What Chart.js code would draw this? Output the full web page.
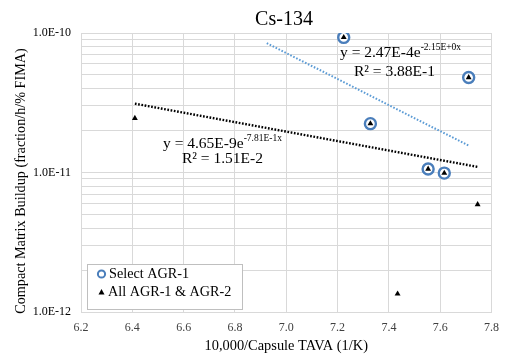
<!DOCTYPE html>
<html>
<head>
<meta charset="utf-8">
<script src="https://cdn.jsdelivr.net/npm/chart.js@4/dist/chart.umd.min.js"></script>
<style>
  html, body { margin: 0; padding: 0; background: #fff; }
  #wrap { width: 508px; height: 355px; }
</style>
</head>
<body>
<div id="wrap"><canvas id="c" width="508" height="355"></canvas></div>
<script>
// Cs-134 compact matrix buildup vs. inverse capsule temperature
const allX = [6.41, 7.224, 7.328, 7.434, 7.553, 7.616, 7.711, 7.746];
const allY = [2.45e-11, 9.3e-11, 2.24e-11, 1.35e-12, 1.06e-11, 9.9e-12, 4.8e-11, 5.9e-12];

const selectX = [7.224, 7.328, 7.553, 7.616, 7.711];
const selectY = [9.3e-11, 2.24e-11, 1.06e-11, 9.9e-12, 4.8e-11];

// Exponential fits y = a * exp(b x), as printed on the chart
const allFit = [4.65e-9, -7.81e-1];
const selectFit = [2.47e-4, -2.15];
const allFitRange = [6.41, 7.746];
const selectFitRange = [6.924, 7.711];

const xTicks = [6.2, 6.4, 6.6, 6.8, 7.0, 7.2, 7.4, 7.6, 7.8];
const yDecades = [1e-12, 1e-11, 1e-10];

const SERIF = '"Liberation Serif", "Times New Roman", serif';
const BLUE = '#4A7EBB';
const GRID = '#d9d9d9';

function toPts(xs, ys) { return xs.map((x, i) => ({ x: x, y: ys[i] })); }
function fitPts(fit, range) { return range.map(x => ({ x: x, y: fit[0] * Math.exp(fit[1] * x) })); }

// log gridlines: 1..9 within each decade
const yGridTicks = [];
for (let d = 0; d < yDecades.length - 1; d++) {
  for (let k = 1; k <= 9; k++) yGridTicks.push(k * yDecades[d]);
}
yGridTicks.push(yDecades[yDecades.length - 1]);

function isDecade(v) {
  const l = Math.log10(v);
  return Math.abs(l - Math.round(l)) < 1e-6;
}

function drawEq(ctx, x, y, base, sup) {
  ctx.font = '15.5px ' + SERIF;
  ctx.textBaseline = 'middle';
  ctx.textAlign = 'left';
  ctx.fillStyle = '#000';
  ctx.fillText(base, x, y);
  const w = ctx.measureText(base).width;
  ctx.font = '9.5px ' + SERIF;
  ctx.fillText(sup, x + w, y - 6);
}

const annotations = {
  id: 'annotations',
  afterDraw(chart) {
    const ctx = chart.ctx;
    ctx.save();
    // title
    ctx.font = '20px ' + SERIF;
    ctx.fillStyle = '#000';
    ctx.textAlign = 'center';
    ctx.textBaseline = 'middle';
    ctx.fillText('Cs-134', 284, 20);

    // vertical axis title
    ctx.save();
    ctx.translate(21, 181);
    ctx.rotate(-Math.PI / 2);
    ctx.font = '14.2px ' + SERIF;
    ctx.fillText('Compact Matrix Buildup (fraction/h/% FIMA)', 0, 0);
    ctx.restore();

    // fit equations
    drawEq(ctx, 340, 53, 'y = 2.47E-4e', '-2.15E+0x');
    ctx.font = '15.5px ' + SERIF;
    ctx.fillText('R\u00B2 = 3.88E-1', 354, 72);
    drawEq(ctx, 163, 144, 'y = 4.65E-9e', '-7.81E-1x');
    ctx.font = '15.5px ' + SERIF;
    ctx.fillText('R\u00B2 = 1.51E-2', 182, 159);

    // legend box
    ctx.fillStyle = '#fff';
    ctx.fillRect(87.5, 264.5, 155, 45);
    ctx.strokeStyle = '#bfbfbf';
    ctx.lineWidth = 1;
    ctx.strokeRect(87.5, 264.5, 155, 45);

    ctx.beginPath();
    ctx.arc(101.5, 274, 3.6, 0, Math.PI * 2);
    ctx.strokeStyle = BLUE;
    ctx.lineWidth = 2;
    ctx.stroke();

    ctx.beginPath();
    ctx.moveTo(101.5, 289);
    ctx.lineTo(104.5, 294.5);
    ctx.lineTo(98.5, 294.5);
    ctx.closePath();
    ctx.fillStyle = '#000';
    ctx.fill();

    ctx.font = '14.2px ' + SERIF;
    ctx.fillStyle = '#000';
    ctx.textAlign = 'left';
    ctx.textBaseline = 'middle';
    ctx.fillText('Select AGR-1', 109, 274);
    ctx.fillText('All AGR-1 & AGR-2', 108, 292);
    ctx.restore();
  }
};

new Chart(document.getElementById('c'), {
  type: 'scatter',
  data: {
    datasets: [
      {
        label: 'All AGR-1 & AGR-2',
        data: toPts(allX, allY),
        pointStyle: 'triangle',
        pointRadius: 3.4,
        backgroundColor: '#000',
        borderColor: '#000',
        borderWidth: 0
      },
      {
        label: 'Select AGR-1',
        data: toPts(selectX, selectY),
        pointStyle: 'circle',
        pointRadius: 5.5,
        backgroundColor: '#fff',
        borderColor: BLUE,
        borderWidth: 2.4
      },
      {
        label: 'Select fit',
        type: 'line',
        data: fitPts(selectFit, selectFitRange),
        borderColor: '#5B9BD5',
        borderWidth: 2,
        borderDash: [1.6, 1.7],
        pointRadius: 0,
        fill: false
      },
      {
        label: 'All fit',
        type: 'line',
        data: fitPts(allFit, allFitRange),
        borderColor: '#000',
        borderWidth: 2.4,
        borderDash: [1.7, 1.6],
        pointRadius: 0,
        fill: false
      }
    ]
  },
  options: {
    responsive: false,
    animation: false,
    layout: { padding: { top: 33, right: 8, left: 0, bottom: 0 } },
    plugins: {
      legend: { display: false },
      title: { display: false },
      tooltip: { enabled: false }
    },
    scales: {
      x: {
        type: 'linear',
        min: 6.2,
        max: 7.8,
        afterBuildTicks(scale) { scale.ticks = xTicks.map(v => ({ value: v })); },
        afterFit(scale) { scale.height = 43; },
        grid: { color: GRID, lineWidth: 1, drawTicks: false },
        border: { color: GRID, width: 1 },
        ticks: {
          padding: 9,
          color: '#404040',
          font: { family: SERIF, size: 12 },
          callback: v => Number(v).toFixed(1)
        },
        title: {
          display: true,
          text: '10,000/Capsule TAVA (1/K)',
          color: '#000',
          font: { family: SERIF, size: 14.4 },
          padding: { top: 2, bottom: 0 }
        }
      },
      y: {
        type: 'logarithmic',
        min: 1e-12,
        max: 1e-10,
        afterBuildTicks(scale) { scale.ticks = yGridTicks.map(v => ({ value: v })); },
        afterFit(scale) { scale.width = 81; },
        grid: { color: GRID, lineWidth: 1, drawTicks: false },
        border: { color: GRID, width: 1 },
        ticks: {
          padding: 10,
          autoSkip: false,
          color: '#000',
          font: { family: SERIF, size: 12 },
          callback: v => isDecade(v) ? Number(v).toExponential(1).toUpperCase() : ''
        },
        title: { display: false }
      }
    }
  },
  plugins: [annotations]
});
</script>
</body>
</html>
